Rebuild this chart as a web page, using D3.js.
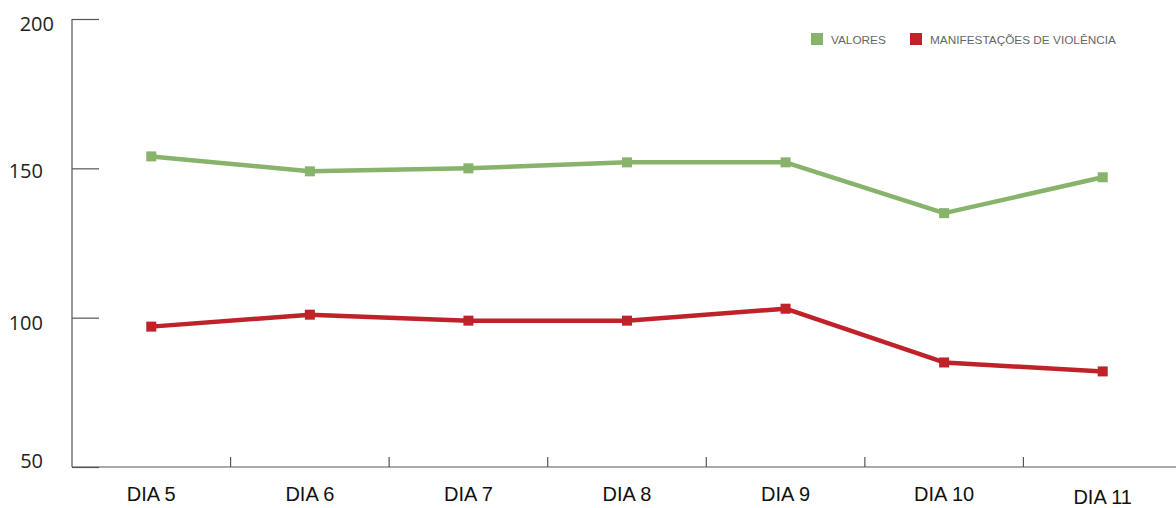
<!DOCTYPE html>
<html>
<head>
<meta charset="utf-8">
<script src="https://cdn.jsdelivr.net/npm/d3@7"></script>
<style>
  html, body { margin: 0; padding: 0; background: #fff; }
  svg { display: block; }
</style>
</head>
<body>
<svg id="chart" width="1176" height="508"></svg>
<script>
// Daily counts for the two tracked series
const days = ["DIA 5", "DIA 6", "DIA 7", "DIA 8", "DIA 9", "DIA 10", "DIA 11"];
const valores = [154, 149, 150, 152, 152, 135, 147];
const violencia = [97, 101, 99, 99, 103, 85, 82];
const yTicks = [50, 100, 150, 200];
const seriesNames = ["VALORES", "MANIFESTAÇÕES DE VIOLÊNCIA"];
const seriesColors = ["#87b36b", "#bf2228"];

(function () {
  const svg = d3.select("#chart");
  const plotLeft = 72, plotBottom = 467, plotTop = 19;

  const x = d3.scaleBand().domain(days).range([plotLeft, 1182]);
  const y = d3.scaleLinear().domain([50, 200]).range([plotBottom, plotTop]);

  const axisColor = "#555";

  // Y axis: vertical line with inward ticks
  const yAxis = d3.axisRight(y).tickValues(yTicks).tickSize(27).tickFormat("");
  const yG = svg.append("g").attr("transform", `translate(${plotLeft},0)`).call(yAxis);
  yG.select(".domain").remove();
  yG.selectAll("line").attr("stroke", axisColor).attr("stroke-width", 1.2);
  svg.append("line")
    .attr("x1", plotLeft).attr("x2", plotLeft).attr("y1", y(200)).attr("y2", plotBottom)
    .attr("stroke", axisColor).attr("stroke-width", 1.2);

  // Y tick labels: the top label sits below its tick, the bottom one on the baseline
  const labelDy = v => v === 200 ? 12 : v === 50 ? 1 : v === 150 ? 10 : 12;
  svg.append("g").selectAll("text").data(yTicks).join("text")
    .attr("x", d => d === 200 ? 54 : 43)
    .attr("y", d => y(d) + labelDy(d))
    .attr("text-anchor", "end")
    .attr("font-family", "'Open Sans', 'DejaVu Sans', sans-serif")
    .attr("font-size", 20).attr("fill", "#222")
    .text(d => d);

  // X axis baseline and band separators
  svg.append("line")
    .attr("x1", plotLeft).attr("x2", 1176).attr("y1", plotBottom).attr("y2", plotBottom)
    .attr("stroke", axisColor).attr("stroke-width", 1.2);
  svg.append("g").selectAll("line").data(days.slice(1)).join("line")
    .attr("x1", d => x(d)).attr("x2", d => x(d))
    .attr("y1", plotBottom).attr("y2", plotBottom - 10)
    .attr("stroke", axisColor).attr("stroke-width", 1.2);

  // X labels (last label sits a little lower)
  svg.append("g").selectAll("text").data(days).join("text")
    .attr("x", d => x(d) + x.bandwidth() / 2)
    .attr("y", (d, i) => i === days.length - 1 ? 503.5 : 501)
    .attr("text-anchor", "middle")
    .attr("font-family", "'Liberation Sans', Arial, sans-serif")
    .attr("font-size", 20).attr("fill", "#111")
    .text(d => d);

  // Lines with square markers
  const line = d3.line()
    .x((d, i) => x(days[i]) + x.bandwidth() / 2)
    .y(d => y(d));

  [valores, violencia].forEach((vals, s) => {
    const g = svg.append("g");
    g.append("path").datum(vals)
      .attr("d", line).attr("fill", "none")
      .attr("stroke", seriesColors[s]).attr("stroke-width", 4.5)
      .attr("stroke-linejoin", "round");
    g.selectAll("rect").data(vals).join("rect")
      .attr("x", (d, i) => x(days[i]) + x.bandwidth() / 2 - 5)
      .attr("y", d => y(d) - 5)
      .attr("width", 10).attr("height", 10)
      .attr("fill", seriesColors[s]);
  });

  // Legend
  const legendX = [811, 910];
  const lg = svg.append("g");
  seriesNames.forEach((name, i) => {
    lg.append("rect").attr("x", legendX[i]).attr("y", 33)
      .attr("width", 12).attr("height", 12).attr("fill", seriesColors[i]);
    lg.append("text").attr("x", legendX[i] + 20).attr("y", 44)
      .attr("font-family", "'Liberation Sans', Arial, sans-serif")
      .attr("font-size", 11.8).attr("fill", "#666")
      .text(name);
  });
})();
</script>
</body>
</html>
